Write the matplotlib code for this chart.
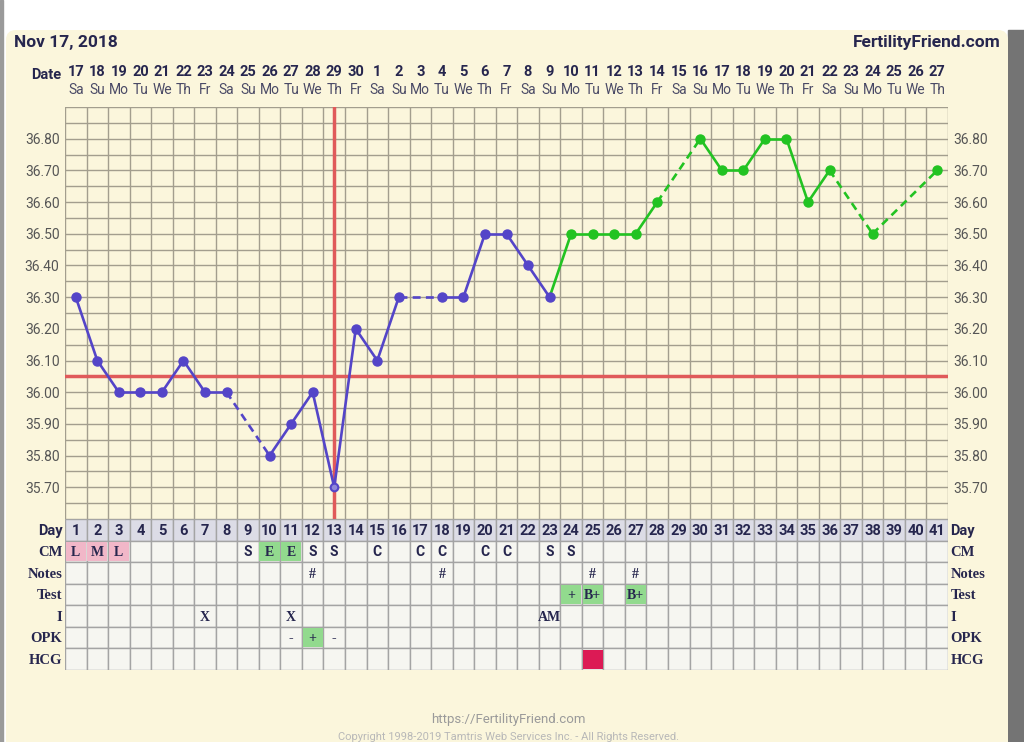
import matplotlib
matplotlib.use("Agg")
import matplotlib.pyplot as plt
from matplotlib.patches import Rectangle, FancyBboxPatch
from matplotlib.transforms import blended_transform_factory
import numpy as np

plt.rcParams['font.family'] = ['Roboto', 'DejaVu Sans']

# ---- data ----
days = list(range(1, 42))
temps = [36.30, 36.10, 36.00, 36.00, 36.00, 36.10, 36.00, 36.00, None, 35.80,
         35.90, 36.00, 35.70, 36.20, 36.10, 36.30, None, 36.30, 36.30, 36.50,
         36.50, 36.40, 36.30, 36.50, 36.50, 36.50, 36.50, 36.60, None, 36.80,
         36.70, 36.70, 36.80, 36.80, 36.60, 36.70, None, 36.50, None, None, 36.70]
green_from = 24          # first post-ovulation day
coverline = 36.05
ovulation_day = 13

date_nums = list(range(17, 31)) + list(range(1, 28))
weekdays = (["Sa", "Su", "Mo", "Tu", "We", "Th", "Fr"] * 6)[:41]
ytick_vals = [35.70, 35.80, 35.90, 36.00, 36.10, 36.20, 36.30, 36.40, 36.50, 36.60, 36.70, 36.80]

row_names = ["Day", "CM", "Notes", "Test", "I", "OPK", "HCG"]
cm = {1: "L", 2: "M", 3: "L", 9: "S", 10: "E", 11: "E", 12: "S", 13: "S", 15: "C",
      17: "C", 18: "C", 20: "C", 21: "C", 23: "S", 24: "S"}
cm_fill = {1: "pink", 2: "pink", 3: "pink", 10: "green", 11: "green"}
notes = {12: "#", 18: "#", 25: "#", 27: "#"}
test = {24: "+", 25: "B+", 27: "B+"}
test_fill = {24: "green", 25: "green", 27: "green"}
intercourse = {7: "X", 11: "X", 23: "AM"}
opk = {11: "-", 12: "+", 13: "-"}
opk_fill = {12: "green"}
hcg_fill = {25: "red"}

fills = {"pink": "#f1b7c8", "green": "#92da8e", "red": "#dc1a55"}
blue = "#5445c8"
green = "#22c322"
navy = "#26264e"
cream = "#fbf6dc"

fig = plt.figure(figsize=(10.24, 7.42), dpi=100)
fig.patch.set_facecolor("white")

# background / page decoration in pixel coordinates
bg = fig.add_axes([0, 0, 1, 1])
bg.set_xlim(0, 1024)
bg.set_ylim(742, 0)
bg.axis("off")
bg.set_zorder(-5)
bg.add_patch(Rectangle((1008, 30), 16, 720, color="#747474"))
bg.add_patch(Rectangle((0, 0), 2.5, 742, color="#9a9a9a"))
bg.add_patch(FancyBboxPatch((6, 30), 1002, 740, boxstyle="round,pad=0,rounding_size=10",
                            facecolor=cream, edgecolor="none"))
bg.text(14, 43, "Nov 17, 2018", fontsize=12.5, fontweight="bold", color=navy, va="center")
bg.text(1001, 43, "FertilityFriend.com", fontsize=12.5, fontweight="bold", color=navy,
        va="center", ha="right")
bg.text(61, 75, "Date", fontsize=10.5, fontweight="bold", color=navy, va="center", ha="right")
bg.text(508, 720, "https://FertilityFriend.com", fontsize=9.5, color="#9a9a9a", ha="center", va="center")
bg.text(508, 737, "Copyright 1998-2019 Tamtris Web Services Inc. - All Rights Reserved.",
        fontsize=8, color="#b8b8b8", ha="center", va="center")

# ---- temperature chart ----
ax = fig.add_axes([65 / 1024, 1 - 519 / 742, 883 / 1024, 412 / 742])
ax.set_facecolor(cream)
ax.set_xlim(0.5, 41.5)
ax.set_ylim(35.60, 36.90)
for s in ax.spines.values():
    s.set_visible(False)
for x in np.arange(0.5, 42, 1):
    ax.axvline(x, color="#a39e8e", lw=1, zorder=1)
for y in np.arange(35.60, 36.91, 0.05):
    ax.axhline(y, color="#a39e8e", lw=1, zorder=1)
ax.set_xticks([])
ax.set_yticks(ytick_vals)
ax.set_yticklabels(["%.2f" % v for v in ytick_vals])
ax.tick_params(axis="y", length=0, labelleft=True, labelright=True, pad=4,
               labelsize=10, labelcolor="#555555")

ax.axhline(coverline, color="#e05a5a", lw=2.5, zorder=2)
ax.axvline(ovulation_day, color="#e05a5a", lw=2.5, zorder=2)

pts = [(d, t) for d, t in zip(days, temps) if t is not None]
for (d0, t0), (d1, t1) in zip(pts[:-1], pts[1:]):
    col = green if d1 >= green_from else blue
    ls = "-" if d1 - d0 == 1 else (0, (3, 2))
    ax.plot([d0, d1], [t0, t1], color=col, lw=1.9, ls=ls, zorder=3)
for d, t in pts:
    col = green if d >= green_from else blue
    if d == ovulation_day:
        ax.plot(d, t, "o", ms=5.5, color="#9088d8", mec=blue, mew=1.5, zorder=4)
    else:
        ax.plot(d, t, "o", ms=6.5, color=col, zorder=4)

tr = blended_transform_factory(ax.transData, fig.transFigure)
for d, n, w in zip(days, date_nums, weekdays):
    ax.text(d, 1 - 72 / 742, str(n), transform=tr, ha="center", va="center",
            fontsize=10.5, fontweight="bold", color=navy)
    ax.text(d, 1 - 90 / 742, w, transform=tr, ha="center", va="center",
            fontsize=10, color="#4a4a66")

# ---- data table ----
tab = fig.add_axes([65 / 1024, 1 - 670 / 742, 883 / 1024, 151 / 742])
tab.set_xlim(0.5, 41.5)
tab.set_ylim(7, 0)
tab.axis("off")
for r in range(7):
    for d in days:
        fc = "#dcdce6" if r == 0 else "#f6f6f1"
        tab.add_patch(Rectangle((d - 0.5, r), 1, 1, facecolor=fc, edgecolor="#a4a4a4", lw=1))

row_data = [(1, cm, cm_fill), (2, notes, {}), (3, test, test_fill),
            (4, intercourse, {}), (5, opk, opk_fill), (6, {}, hcg_fill)]
for r, texts, fl in row_data:
    for d, key in fl.items():
        tab.add_patch(Rectangle((d - 0.47, r + 0.06), 0.94, 0.88, facecolor=fills[key],
                                edgecolor="none", zorder=2))
    for d, txt in texts.items():
        fam = "Roboto" if txt in ("S", "C") else "Liberation Serif"
        tab.text(d, r + 0.55, txt, ha="center", va="center", fontsize=10, fontweight="bold",
                 color=navy, family=fam, zorder=3)

for d in days:
    tab.text(d, 0.55, str(d), ha="center", va="center", fontsize=10.5, fontweight="bold", color=navy)

for r, name in enumerate(row_names):
    kw = dict(fontsize=10.5, fontweight="bold", color=navy, va="center")
    if r > 0:
        kw["family"] = "Liberation Serif"
    tab.text(0.38, r + 0.55, name, ha="right", **kw)
    tab.text(41.62, r + 0.55, name, ha="left", **kw)

fig.savefig("out.png", dpi=100)
